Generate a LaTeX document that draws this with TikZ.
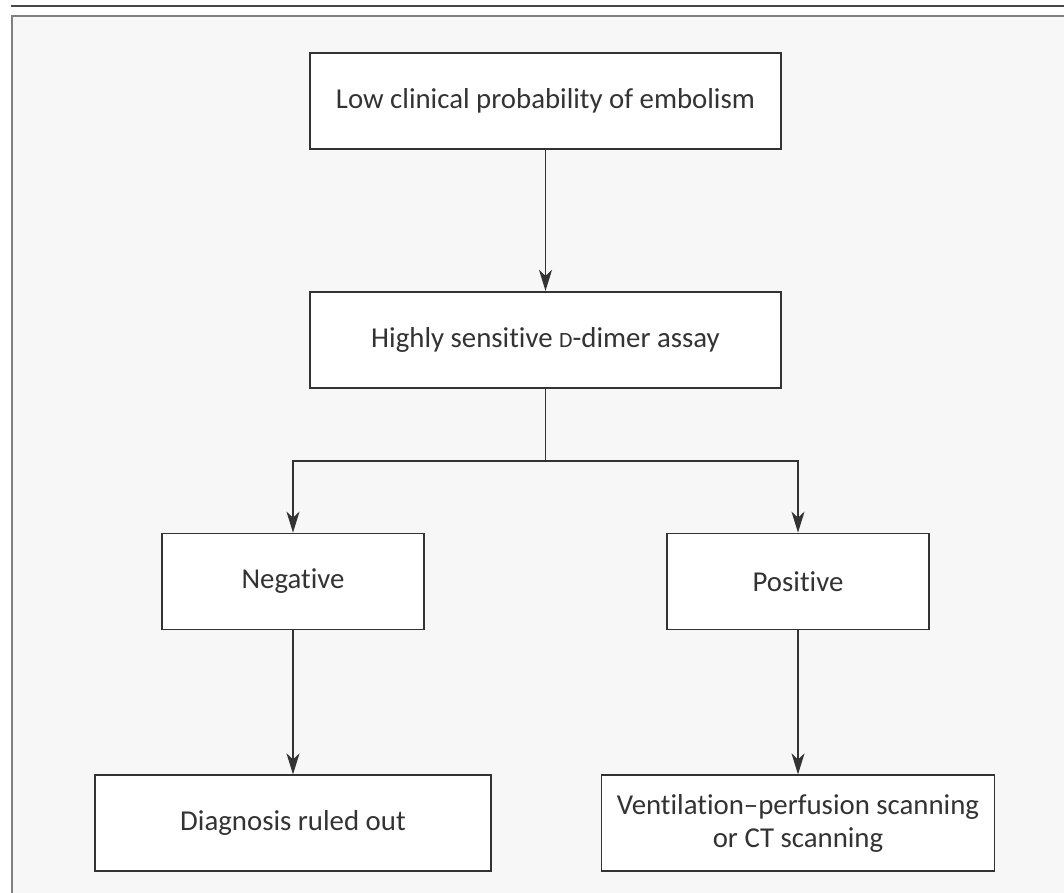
\documentclass[tikz,border=0pt]{standalone}
\usepackage{fontspec}
\setmainfont{Carlito}[Ligatures=NoCommon]
\usepackage{xcolor}
\usetikzlibrary{arrows.meta,positioning}
\definecolor{panelgray}{HTML}{F7F7F7}
\definecolor{inkgray}{HTML}{333333}

\begin{document}
\begin{tikzpicture}[
  node distance=2.88cm,
  box/.style={draw=inkgray, line width=1pt, fill=white, align=center, minimum height=1.92cm, text=inkgray, font=\fontsize{16.4}{19}\selectfont},
  arr/.style={-{Stealth[length=4.2mm,width=2.6mm,inset=1.2mm]}, draw=inkgray, line width=1pt}
]
\useasboundingbox (0,0) rectangle (21.28,-17.84);
% panel and top rule
\fill[panelgray] (0.24,-0.32) rectangle (21.6,-18.2);
\draw[gray, line width=1.3pt] (0.24,-18.2) -- (0.24,-0.32) -- (21.6,-0.32);
\draw[inkgray!90, line width=1.3pt] (0.22,-0.12) -- (21.6,-0.12);

\node[box, minimum width=9.42cm] (lowprob) at (10.91,-2.02) {Low clinical probability of embolism};
\node[box, minimum width=9.42cm, below=2.82cm of lowprob] (ddimer) {Highly sensitive {\fontsize{12.4}{12}\selectfont D}-dimer assay};
\node[box, minimum width=5.24cm, below=of ddimer, xshift=-5.05cm] (neg) {Negative};
\node[box, minimum width=5.24cm, below=of ddimer, xshift=5.05cm] (pos) {Positive};
\node[box, minimum width=7.92cm, below=of neg] (ruledout) {Diagnosis ruled out};
\node[box, minimum width=7.86cm, below=of pos] (scan) {Ventilation--perfusion scanning\\or CT scanning};

\coordinate (split) at ([yshift=-1.44cm]ddimer.south);
\draw[arr] (lowprob) -- (ddimer);
\draw[inkgray, line width=1pt] (ddimer) -- (split);
\draw[arr] (split) -| (neg);
\draw[arr] (split) -| (pos);
\draw[arr] (neg) -- (ruledout);
\draw[arr] (pos) -- (scan);
\end{tikzpicture}
\end{document}
